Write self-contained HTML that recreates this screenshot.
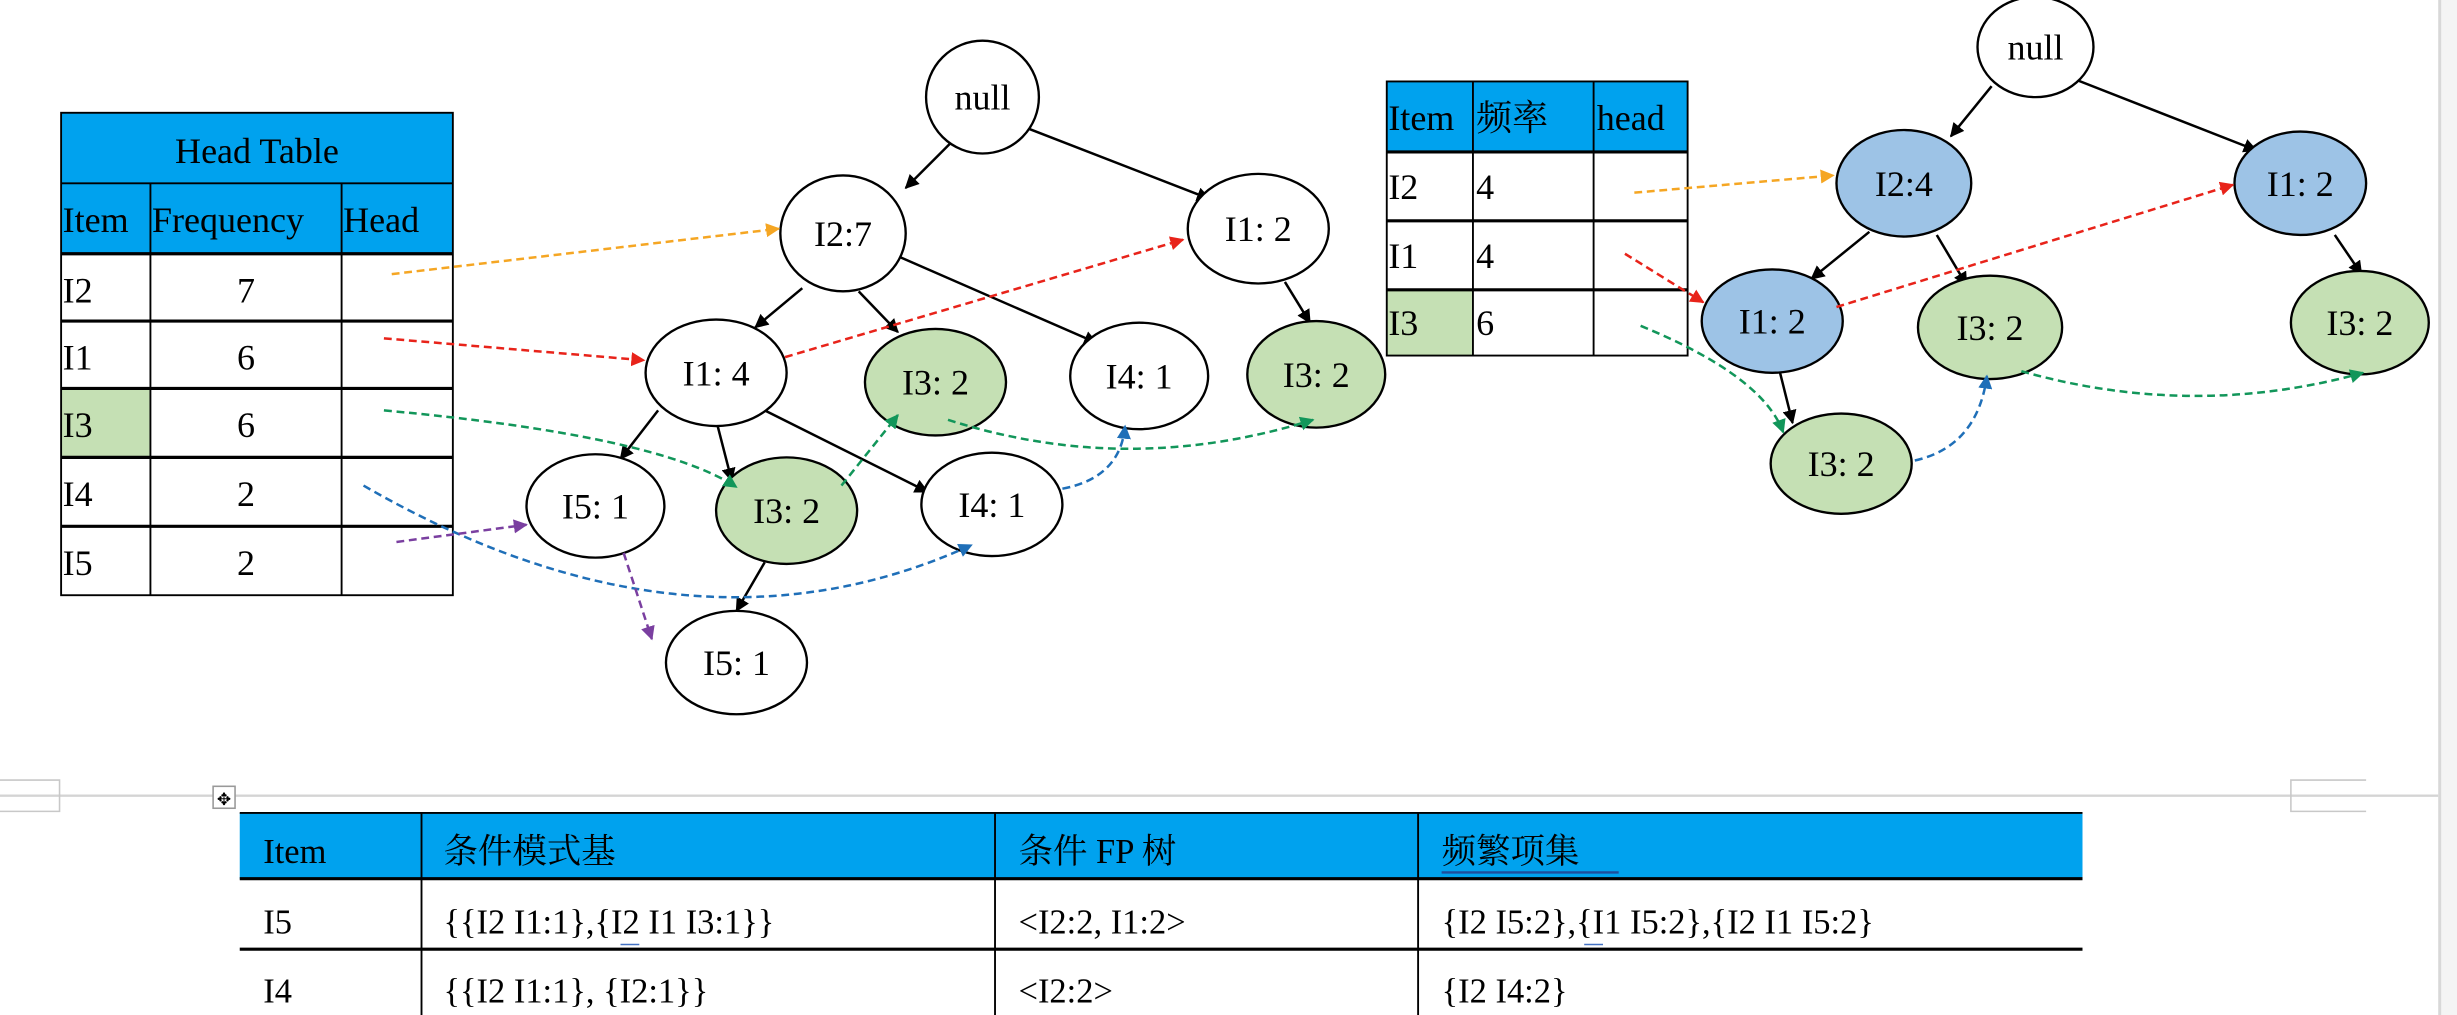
<!DOCTYPE html>
<html><head><meta charset="utf-8"><style>
html,body{margin:0;padding:0;background:#fff;width:2457px;height:1015px;overflow:hidden}
svg{display:block}
text{font-family:"Liberation Serif","Noto Serif CJK SC","Noto Sans CJK SC",serif;fill:#000}
</style></head><body>
<svg width="2457" height="1015" viewBox="0 0 1568 648" preserveAspectRatio="none" xmlns="http://www.w3.org/2000/svg">
<defs>
<marker id="mk" viewBox="0 0 10 10" refX="9" refY="5" markerWidth="9" markerHeight="9" markerUnits="userSpaceOnUse" orient="auto"><path d="M0,0L10,5L0,10z" fill="#000"/></marker>
<marker id="mo" viewBox="0 0 10 10" refX="9" refY="5" markerWidth="9" markerHeight="9" markerUnits="userSpaceOnUse" orient="auto"><path d="M0,0L10,5L0,10z" fill="#F5A623"/></marker>
<marker id="mr" viewBox="0 0 10 10" refX="9" refY="5" markerWidth="9" markerHeight="9" markerUnits="userSpaceOnUse" orient="auto"><path d="M0,0L10,5L0,10z" fill="#E8231A"/></marker>
<marker id="mg" viewBox="0 0 10 10" refX="9" refY="5" markerWidth="9" markerHeight="9" markerUnits="userSpaceOnUse" orient="auto"><path d="M0,0L10,5L0,10z" fill="#12965A"/></marker>
<marker id="mb" viewBox="0 0 10 10" refX="9" refY="5" markerWidth="9" markerHeight="9" markerUnits="userSpaceOnUse" orient="auto"><path d="M0,0L10,5L0,10z" fill="#1F6FB8"/></marker>
<marker id="mp" viewBox="0 0 10 10" refX="9" refY="5" markerWidth="9" markerHeight="9" markerUnits="userSpaceOnUse" orient="auto"><path d="M0,0L10,5L0,10z" fill="#7A3FA0"/></marker>
</defs>

<!-- Head Table -->
<rect x="39" y="72" width="250" height="90" fill="#00A2EE"/>
<rect x="39" y="248" width="57" height="44" fill="#C5E0B4"/>
<g stroke="#000" stroke-width="1.2" fill="none">
<rect x="39" y="72" width="250" height="308"/>
<line x1="39" y1="117" x2="289" y2="117"/>
<line x1="39" y1="162" x2="289" y2="162" stroke-width="2"/>
<line x1="39" y1="205" x2="289" y2="205" stroke-width="2"/>
<line x1="39" y1="248" x2="289" y2="248" stroke-width="2"/>
<line x1="39" y1="292" x2="289" y2="292" stroke-width="2"/>
<line x1="39" y1="336" x2="289" y2="336" stroke-width="2"/>
<line x1="96" y1="117" x2="96" y2="380"/>
<line x1="218" y1="117" x2="218" y2="380"/>
</g>
<g font-size="23">
<text x="164" y="104" text-anchor="middle">Head Table</text>
<text x="40" y="148">Item</text><text x="97" y="148">Frequency</text><text x="219" y="148">Head</text>
<text x="40" y="193">I2</text><text x="157" y="193" text-anchor="middle">7</text>
<text x="40" y="236">I1</text><text x="157" y="236" text-anchor="middle">6</text>
<text x="40" y="279">I3</text><text x="157" y="279" text-anchor="middle">6</text>
<text x="40" y="323">I4</text><text x="157" y="323" text-anchor="middle">2</text>
<text x="40" y="367">I5</text><text x="157" y="367" text-anchor="middle">2</text>
</g>

<!-- Right small table -->
<rect x="885" y="52" width="192" height="45" fill="#00A2EE"/>
<rect x="885" y="185" width="55" height="42" fill="#C5E0B4"/>
<g stroke="#000" stroke-width="1.2" fill="none">
<rect x="885" y="52" width="192" height="175"/>
<line x1="885" y1="97" x2="1077" y2="97" stroke-width="2"/>
<line x1="885" y1="141" x2="1077" y2="141" stroke-width="2"/>
<line x1="885" y1="185" x2="1077" y2="185" stroke-width="2"/>
<line x1="940" y1="52" x2="940" y2="227"/>
<line x1="1017" y1="52" x2="1017" y2="227"/>
</g>
<g font-size="23">
<text x="886" y="83">Item</text><text x="942" y="83">频率</text><text x="1019" y="83">head</text>
<text x="886" y="127">I2</text><text x="942" y="127">4</text>
<text x="886" y="171">I1</text><text x="942" y="171">4</text>
<text x="886" y="214">I3</text><text x="942" y="214">6</text>
</g>

<!-- Left tree edges -->
<g stroke="#000" stroke-width="1.6" marker-end="url(#mk)">
<line x1="607" y1="91" x2="578" y2="120"/>
<line x1="656" y1="82" x2="772" y2="127"/>
<line x1="512" y1="184" x2="482" y2="209"/>
<line x1="548" y1="186" x2="573" y2="212"/>
<line x1="574" y1="164" x2="700" y2="219"/>
<line x1="820" y1="180" x2="836" y2="206"/>
<line x1="420" y1="262" x2="396" y2="293"/>
<line x1="458" y1="272" x2="467" y2="307"/>
<line x1="488" y1="262" x2="592" y2="314"/>
<line x1="488" y1="359" x2="470" y2="390"/>
</g>
<!-- Right tree edges -->
<g stroke="#000" stroke-width="1.6" marker-end="url(#mk)">
<line x1="1271" y1="55" x2="1245" y2="87"/>
<line x1="1320" y1="49" x2="1440" y2="96"/>
<line x1="1193" y1="148" x2="1156" y2="178"/>
<line x1="1236" y1="150" x2="1255" y2="182"/>
<line x1="1490" y1="150" x2="1507" y2="175"/>
<line x1="1136" y1="238" x2="1144" y2="270"/>
</g>

<!-- Left nodes -->
<g stroke="#000" stroke-width="1.5">
<ellipse cx="627" cy="62" rx="36" ry="36" fill="#fff"/>
<ellipse cx="538" cy="149" rx="40" ry="37" fill="#fff"/>
<ellipse cx="803" cy="146" rx="45" ry="35" fill="#fff"/>
<ellipse cx="457" cy="238" rx="45" ry="34" fill="#fff"/>
<ellipse cx="597" cy="244" rx="45" ry="34" fill="#C5E0B4"/>
<ellipse cx="727" cy="240" rx="44" ry="34" fill="#fff"/>
<ellipse cx="840" cy="239" rx="44" ry="34" fill="#C5E0B4"/>
<ellipse cx="380" cy="323" rx="44" ry="33" fill="#fff"/>
<ellipse cx="502" cy="326" rx="45" ry="34" fill="#C5E0B4"/>
<ellipse cx="633" cy="322" rx="45" ry="33" fill="#fff"/>
<ellipse cx="470" cy="423" rx="45" ry="33" fill="#fff"/>
</g>
<g font-size="23" text-anchor="middle">
<text x="627" y="70">null</text>
<text x="538" y="157">I2:7</text>
<text x="803" y="154">I1: 2</text>
<text x="457" y="246">I1: 4</text>
<text x="597" y="252">I3: 2</text>
<text x="727" y="248">I4: 1</text>
<text x="840" y="247">I3: 2</text>
<text x="380" y="331">I5: 1</text>
<text x="502" y="334">I3: 2</text>
<text x="633" y="330">I4: 1</text>
<text x="470" y="431">I5: 1</text>
</g>

<!-- Right nodes -->
<g stroke="#000" stroke-width="1.5">
<ellipse cx="1299" cy="30" rx="37" ry="32" fill="#fff"/>
<ellipse cx="1215" cy="117" rx="43" ry="34" fill="#9DC3E6"/>
<ellipse cx="1468" cy="117" rx="42" ry="33" fill="#9DC3E6"/>
<ellipse cx="1131" cy="205" rx="45" ry="33" fill="#9DC3E6"/>
<ellipse cx="1270" cy="209" rx="46" ry="33" fill="#C5E0B4"/>
<ellipse cx="1506" cy="206" rx="44" ry="33" fill="#C5E0B4"/>
<ellipse cx="1175" cy="296" rx="45" ry="32" fill="#C5E0B4"/>
</g>
<g font-size="23" text-anchor="middle">
<text x="1299" y="38">null</text>
<text x="1215" y="125">I2:4</text>
<text x="1468" y="125">I1: 2</text>
<text x="1131" y="213">I1: 2</text>
<text x="1270" y="217">I3: 2</text>
<text x="1506" y="214">I3: 2</text>
<text x="1175" y="304">I3: 2</text>
</g>

<!-- dashed links -->
<g fill="none" stroke-width="1.6" stroke-dasharray="5,3">
<path d="M250,175 L497,146" stroke="#F5A623" marker-end="url(#mo)"/>
<path d="M245,216 L411,230" stroke="#E8231A" marker-end="url(#mr)"/>
<path d="M501,228 L755,153" stroke="#E8231A" marker-end="url(#mr)"/>
<path d="M245,262 Q420,278 470,311" stroke="#12965A" marker-end="url(#mg)"/>
<path d="M537,310 L573,265" stroke="#12965A" marker-end="url(#mg)"/>
<path d="M605,268 Q720,305 838,268" stroke="#12965A" marker-end="url(#mg)"/>
<path d="M232,310 Q440,430 620,348" stroke="#1F6FB8" marker-end="url(#mb)"/>
<path d="M678,312 Q715,305 718,272" stroke="#1F6FB8" marker-end="url(#mb)"/>
<path d="M253,346 L336,335" stroke="#7A3FA0" marker-end="url(#mp)"/>
<path d="M398,353 L416,408" stroke="#7A3FA0" marker-end="url(#mp)"/>
<path d="M1043,123 L1170,112" stroke="#F5A623" marker-end="url(#mo)"/>
<path d="M1037,162 L1087,193" stroke="#E8231A" marker-end="url(#mr)"/>
<path d="M1172,196 L1425,118" stroke="#E8231A" marker-end="url(#mr)"/>
<path d="M1047,208 Q1125,240 1138,276" stroke="#12965A" marker-end="url(#mg)"/>
<path d="M1290,237 Q1400,268 1508,238" stroke="#12965A" marker-end="url(#mg)"/>
<path d="M1222,294 Q1262,285 1268,240" stroke="#1F6FB8" marker-end="url(#mb)"/>
</g>

<!-- page decoration -->
<line x1="0" y1="508" x2="1556" y2="508" stroke="#d4d4d4" stroke-width="1.5"/>
<path d="M0,498 H38 V518 H0" fill="none" stroke="#c8c8c8"/>
<path d="M1510,498 H1462 V518 H1510" fill="none" stroke="#c8c8c8"/>
<rect x="136" y="502" width="14" height="14" fill="#fff" stroke="#999"/>
<text x="143" y="514" font-size="11" text-anchor="middle" fill="#555">✥</text>
<line x1="1557" y1="0" x2="1557" y2="648" stroke="#d8d8d8" stroke-width="2"/>
<rect x="1558" y="0" width="10" height="648" fill="#f4f4f4"/>

<!-- Bottom table -->
<rect x="153" y="519" width="1176" height="42" fill="#00A2EE"/>
<g stroke="#000" stroke-width="1.2">
<line x1="153" y1="519" x2="1329" y2="519"/>
<line x1="153" y1="561" x2="1329" y2="561" stroke-width="2"/>
<line x1="153" y1="606" x2="1329" y2="606" stroke-width="2"/>
<line x1="269" y1="519" x2="269" y2="648"/>
<line x1="635" y1="519" x2="635" y2="648"/>
<line x1="905" y1="519" x2="905" y2="648"/>
</g>
<g font-size="22">
<text x="168" y="551">Item</text>
<text x="283" y="551">条件模式基</text>
<text x="650" y="551">条件 FP 树</text>
<text x="920" y="551">频繁项集</text>
<text x="168" y="596">I5</text>
<text x="283" y="596">{{I2 I1:1},{I2 I1 I3:1}}</text>
<text x="650" y="596">&lt;I2:2, I1:2&gt;</text>
<text x="920" y="596">{I2 I5:2},{I1 I5:2},{I2 I1 I5:2}</text>
<text x="168" y="640">I4</text>
<text x="283" y="640">{{I2 I1:1}, {I2:1}}</text>
<text x="650" y="640">&lt;I2:2&gt;</text>
<text x="920" y="640">{I2 I4:2}</text>
</g>
<line x1="920" y1="557" x2="1033" y2="557" stroke="#1F4E9C" stroke-width="1.5"/>
<line x1="396" y1="603" x2="408" y2="603" stroke="#4472C4" stroke-width="1"/>
<line x1="1011" y1="603" x2="1023" y2="603" stroke="#4472C4" stroke-width="1"/>
</svg>
</body></html>
